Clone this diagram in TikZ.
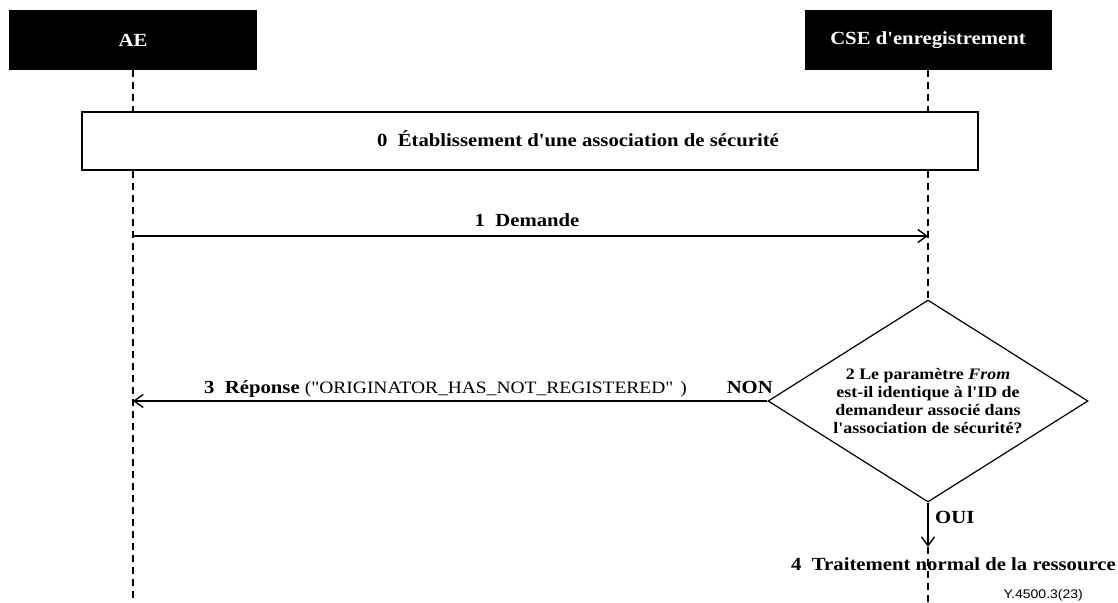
\documentclass[tikz,border=0pt]{standalone}
\usepackage{fontspec}
\setmainfont{Liberation Serif}[Ligatures=TeXOff, FakeStretch=1.12]
\newfontfamily\figsans{Liberation Sans}[FakeStretch=1.12]
\usetikzlibrary{arrows.meta, shapes.geometric}

\begin{document}
\begin{tikzpicture}[x=1pt, y=-1pt,
  header/.style={fill=black, text=white, font=\bfseries\fontsize{18.5}{20}\selectfont,
    minimum width=248pt, minimum height=59pt, inner sep=0pt},
  lifeline/.style={line width=1.5pt, dash pattern=on 7pt off 5pt},
  msg/.style={line width=1.4pt, -{Straight Barb[length=9pt, width=13pt]}},
  frame/.style={draw, fill=white, line width=1.2pt},
  lbl/.style={font=\bfseries\fontsize{18.5}{20}\selectfont, inner sep=0pt},
  decision/.style={frame, diamond, aspect=1.58, minimum width=320pt, minimum height=202pt,
    inner sep=0pt, align=center, font=\bfseries\fontsize{16}{18}\selectfont},
  figref/.style={font=\figsans\fontsize{12.5}{14}\selectfont, inner sep=0pt}]

\useasboundingbox (0,0) rectangle (1118,602);

% participants
\node[header] (ae) at (133,40) {AE};
\node[header, minimum width=247pt] (cse) at (928,40) {CSE d'enregistrement};
\coordinate (aeEnd) at (133,602);
\coordinate (cseEnd) at (928,602);

% step 0: security association spanning both lifelines
\node[frame, minimum width=896pt, minimum height=58pt, inner sep=0pt] (sa) at (530,141) {};
\node[lbl, anchor=base] (saText) at (578,146) {0~~Établissement d'une association de sécurité};

% AE lifeline, interrupted by the step 0 box
\draw[lifeline] (ae.south) -- (ae.south |- sa.north);
\draw[lifeline] (ae.south |- sa.south) -- (aeEnd);

% step 2: decision on the CSE side
\node[decision] (dec) at (928,401)
  {2 Le paramètre \textit{From}\\est-il identique à l'ID de\\demandeur associé dans\\l'association de sécurité?};

% CSE lifeline
\draw[lifeline] (cse.south) -- (cse.south |- sa.north);
\draw[lifeline] (cse.south |- sa.south) -- (dec.north);

% step 1: request
\coordinate (reqFrom) at (133,236);
\coordinate (reqTo) at (928,236);
\draw[msg] (reqFrom) -- (reqTo);
\node[lbl, anchor=base] (reqText) at (527,226) {1~~Demande};

% step 3: rejection
\coordinate (repTo) at (133,401);
\draw[msg] (dec.west) -- (repTo);
\node[lbl, anchor=base west] (repText) at (204,393)
  {3~~Réponse {\mdseries\fontsize{17.4}{20}\selectfont ("ORIGINATOR\_HAS\_NOT\_REGISTERED"\hspace{7pt})}};
\node[lbl, anchor=base east] (non) at (773,393) {NON};

% step 4: normal processing
\coordinate (ouiEnd) at (928,547);
\draw[msg] (dec.south) -- (ouiEnd);
\node[lbl, anchor=base west] (oui) at (935,523) {OUI};
\draw[lifeline] (ouiEnd) -- (cseEnd);
\node[lbl, anchor=base west] (step4) at (791,570) {4~~Traitement normal de la ressource};

\node[figref, anchor=base east] (ref) at (1083,598) {Y.4500.3(23)};
\end{tikzpicture}
\end{document}
